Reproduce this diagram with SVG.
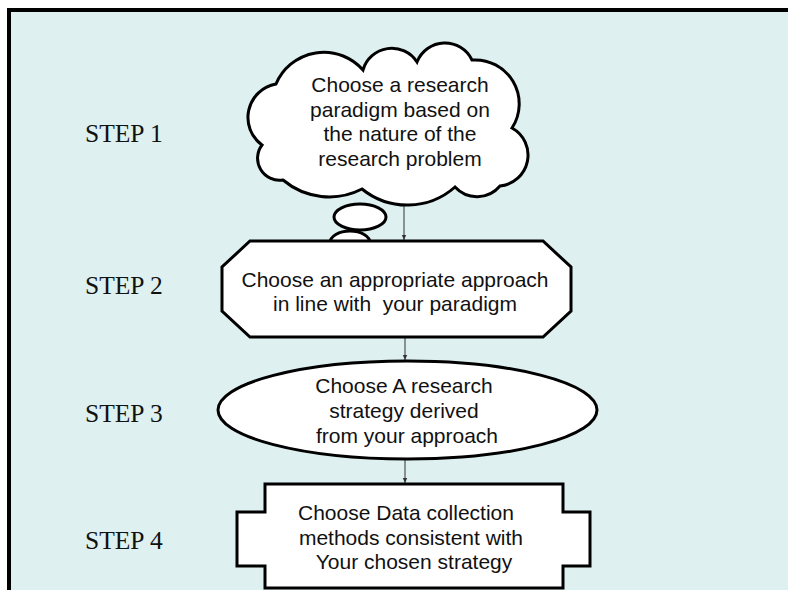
<svg xmlns="http://www.w3.org/2000/svg" width="788" height="590" viewBox="0 0 788 590">
<defs>
<style>
.shape{fill:#ffffff;stroke:#000000;stroke-width:3;stroke-linejoin:miter}
.node{font-family:"Liberation Sans",Arial,sans-serif;font-size:21px;fill:#111111;text-anchor:middle;white-space:pre}
.step{font-family:"Liberation Serif","Times New Roman",serif;font-size:25.5px;fill:#111111}
.conn{stroke:#333333;stroke-width:1;fill:none}
</style>
<marker id="arr" markerWidth="6" markerHeight="6" refX="5" refY="3" orient="auto" markerUnits="userSpaceOnUse">
<path d="M0,0.8 L5,3 L0,5.2 Z" fill="#333333"/>
</marker>
</defs>
<rect x="0" y="0" width="788" height="590" fill="#ffffff"/>
<rect x="9" y="10" width="800" height="600" fill="#DEF0F0" stroke="#000000" stroke-width="4"/>

<g id="labels">
<text class="step" x="85" y="142">STEP 1</text>
<text class="step" x="85" y="294">STEP 2</text>
<text class="step" x="85" y="422">STEP 3</text>
<text class="step" x="85" y="549">STEP 4</text>
</g>

<g id="connectors">
<line class="conn" x1="404" y1="200" x2="404" y2="240" marker-end="url(#arr)"/>
<line class="conn" x1="405" y1="338" x2="405" y2="360" marker-end="url(#arr)"/>
<line class="conn" x1="405" y1="459" x2="405" y2="483" marker-end="url(#arr)"/>
</g>

<g id="step1">
<ellipse class="shape" cx="360" cy="217" rx="26" ry="13"/>
<ellipse class="shape" cx="350" cy="243" rx="20" ry="12"/>
<path class="shape" d="M262,145 A34,34 0 0 1 276,84 A52,52 0 0 1 363,70 A30,30 0 0 1 417,62 A30,30 0 0 1 472,60 A44,44 0 0 1 512,128 A31,31 0 0 1 500,186 A30,30 0 0 1 455,187 A72,72 0 0 1 362,189 A72,72 0 0 1 283,180 A22,22 0 0 1 262,145 Z"/>
<text class="node" x="400" y="92">Choose a research</text>
<text class="node" x="400" y="117">paradigm based on</text>
<text class="node" x="400" y="141">the nature of the</text>
<text class="node" x="400" y="166">research problem</text>
</g>

<g id="step2">
<polygon class="shape" points="250,241 543,241 571,267 571,311 543,337 250,337 222,311 222,267"/>
<text class="node" x="395" y="287">Choose an appropriate approach</text>
<text class="node" x="395" y="311">in line with  your paradigm</text>
</g>

<g id="step3">
<ellipse class="shape" cx="407.5" cy="410" rx="189.5" ry="49"/>
<text class="node" x="404" y="393">Choose A research</text>
<text class="node" x="404" y="418">strategy derived</text>
<text class="node" x="407" y="443">from your approach</text>
</g>

<g id="step4">
<polygon class="shape" points="265,484 563,484 563,512 590,512 590,566 563,566 563,588 265,588 265,566 237,566 237,512 265,512"/>
<text class="node" x="406" y="520">Choose Data collection</text>
<text class="node" x="411" y="545">methods consistent with</text>
<text class="node" x="414" y="569">Your chosen strategy</text>
</g>
</svg>
